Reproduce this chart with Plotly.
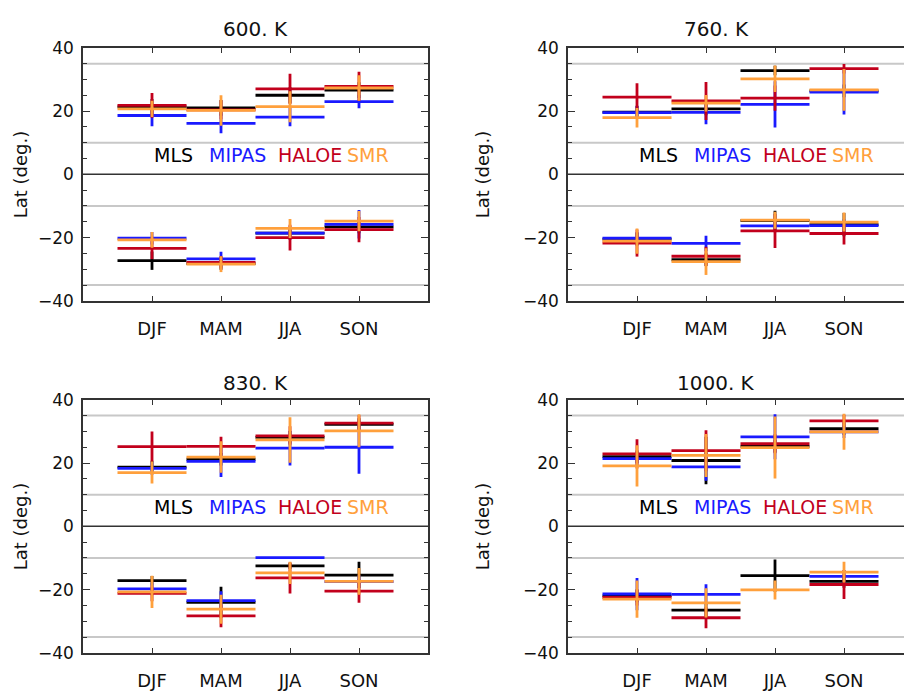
import plotly.graph_objects as go
from plotly.subplots import make_subplots

SEASONS = ["DJF", "MAM", "JJA", "SON"]
SEASON_POS = [1, 2, 3, 4]
INSTRUMENTS = ["MLS", "MIPAS", "HALOE", "SMR"]
COLORS = ["#000000", "#1a1aff", "#c2001c", "#ffa03c"]
PANEL_TITLES = ["600. K", "760. K", "830. K", "1000. K"]
Y_TICKS = [-40, -20, 0, 20, 40]
REF_LATS = [-35, -10, 10, 35]
LABEL_X = [1.0, 1.8, 2.8, 3.8]
LABEL_Y = 6

# rows: MLS, MIPAS, HALOE, SMR ; columns: DJF, MAM, JJA, SON
K600_NH_LAT = [[21.3, 21.0, 25.0, 26.6], [18.6, 16.1, 18.1, 23.0],
               [21.8, 20.4, 27.0, 27.8], [20.7, 20.2, 21.4, 27.3]]
K600_NH_ERR = [[2.5, 2.5, 2.5, 2.5], [3.4, 3.1, 2.9, 2.1],
               [3.9, 3.0, 4.8, 4.6], [2.6, 4.8, 4.9, 4.0]]
K600_SH_LAT = [[-27.3, -28.2, -18.6, -16.6], [-20.2, -26.7, -18.6, -15.8],
               [-23.4, -27.8, -20.0, -17.5], [-20.7, -28.4, -17.1, -14.8]]
K600_SH_ERR = [[2.9, 2.0, 2.0, 2.0], [2.0, 2.2, 2.0, 4.5],
               [3.4, 2.0, 4.1, 4.0], [2.5, 2.5, 3.0, 3.2]]

K760_NH_LAT = [[19.7, 20.7, 32.8, 26.4], [19.5, 19.6, 22.1, 26.0],
               [24.4, 23.2, 24.1, 33.4], [17.9, 22.5, 30.2, 26.7]]
K760_NH_ERR = [[2.0, 2.0, 1.5, 2.0], [2.0, 3.8, 7.3, 7.1],
               [4.4, 6.0, 4.0, 1.5], [3.1, 2.6, 4.2, 6.6]]
K760_SH_LAT = [[-20.5, -27.0, -14.6, -15.9], [-20.2, -21.8, -16.3, -16.2],
               [-21.7, -25.9, -17.9, -18.7], [-21.1, -27.6, -14.5, -15.1]]
K760_SH_ERR = [[2.0, 2.0, 3.1, 3.7], [2.0, 2.4, 2.0, 2.0],
               [4.3, 3.0, 5.4, 3.5], [4.0, 4.2, 2.7, 3.0]]

K830_NH_LAT = [[18.7, 21.2, 28.1, 32.2], [18.3, 20.5, 24.7, 25.0],
               [25.2, 25.3, 28.6, 32.6], [17.0, 21.9, 27.3, 30.2]]
K830_NH_ERR = [[2.0, 2.0, 2.0, 2.0], [2.0, 4.9, 5.5, 8.4],
               [4.8, 3.0, 3.0, 2.5], [3.5, 5.0, 7.2, 5.2]]
K830_SH_LAT = [[-17.2, -24.0, -12.5, -15.4], [-19.8, -23.5, -9.9, -17.5],
               [-21.2, -28.3, -16.3, -20.5], [-20.7, -26.2, -14.7, -17.4]]
K830_SH_ERR = [[1.5, 4.9, 1.0, 4.2], [2.0, 3.0, 0.0, 2.0],
               [2.5, 3.6, 4.9, 3.7], [5.1, 4.6, 3.5, 4.2]]

K1000_NH_LAT = [[22.0, 20.8, 25.3, 30.9], [21.4, 18.8, 28.3, 29.9],
                [22.9, 23.9, 26.1, 33.3], [19.1, 22.4, 24.9, 29.9]]
K1000_NH_ERR = [[2.0, 7.5, 2.0, 2.0], [2.0, 4.4, 7.1, 2.0],
                [4.6, 6.5, 3.0, 2.0], [6.5, 6.8, 9.8, 5.7]]
K1000_SH_LAT = [[-22.0, -26.5, -15.6, -17.4], [-21.4, -21.5, None, -15.8],
                [-22.5, -28.9, None, -18.4], [-23.0, -24.2, -20.1, -14.5]]
K1000_SH_ERR = [[2.0, 2.0, 5.1, 2.0], [5.1, 3.2, None, 2.0],
                [2.5, 3.3, None, 4.6], [5.9, 4.6, 3.0, 3.3]]

PANELS = [
    (K600_NH_LAT, K600_NH_ERR, K600_SH_LAT, K600_SH_ERR),
    (K760_NH_LAT, K760_NH_ERR, K760_SH_LAT, K760_SH_ERR),
    (K830_NH_LAT, K830_NH_ERR, K830_SH_LAT, K830_SH_ERR),
    (K1000_NH_LAT, K1000_NH_ERR, K1000_SH_LAT, K1000_SH_ERR),
]

W, H = 904, 691
FONT = "DejaVu Sans"
PX_PER_X = 69.0
LEFT_X0, RIGHT_X0 = 83, 568
TOP_Y = (39, 300)
BOT_Y = (402, 663)


def segments(lat_rows, err_rows):
    xs, ys = [], []
    for lats, errs in zip(lat_rows, err_rows):
        for p, lat, err in zip(SEASON_POS, lats, errs):
            if lat is None:
                continue
            xs += [p - 0.5, p + 0.5, None, p, p, None]
            ys += [lat, lat, None, lat - err, lat + err, None]
    return xs, ys


fig = make_subplots(rows=2, cols=2)

for k, (nh_lat, nh_err, sh_lat, sh_err) in enumerate(PANELS):
    row, col = k // 2 + 1, k % 2 + 1
    for i, name in enumerate(INSTRUMENTS):
        xs, ys = segments([nh_lat[i], sh_lat[i]], [nh_err[i], sh_err[i]])
        fig.add_trace(go.Scatter(x=xs, y=ys, mode="lines", name=name,
                                 line=dict(color=COLORS[i], width=2.8),
                                 showlegend=False, hoverinfo="skip"),
                      row=row, col=col)
        fig.add_annotation(x=LABEL_X[i], y=LABEL_Y, text=name, showarrow=False,
                           xanchor="left", yanchor="middle",
                           font=dict(family=FONT, size=19, color=COLORS[i]),
                           row=row, col=col)

axis_names = ["", "2", "3", "4"]
for k in range(4):
    col = k % 2
    yp = TOP_Y if k < 2 else BOT_Y
    x0 = LEFT_X0 if col == 0 else RIGHT_X0
    x1 = min(x0 + 5 * PX_PER_X, W)
    xr = (x1 - x0) / PX_PER_X
    ax = axis_names[k]
    fig.layout["xaxis" + ax].update(
        domain=[x0 / W, x1 / W], range=[0, xr],
        tickvals=SEASON_POS, ticktext=SEASONS,
        ticks="inside", ticklen=5, tickcolor="#333", tickwidth=1.2,
        showline=True, linecolor="#333", linewidth=1.5, mirror="allticks",
        showgrid=False, zeroline=False,
        tickfont=dict(family=FONT, size=18, color="#111"),
        ticklabelstandoff=11,
    )
    fig.layout["yaxis" + ax].update(
        domain=[1 - yp[1] / H, 1 - yp[0] / H], range=[-40, 40],
        tickvals=Y_TICKS, ticks="inside", ticklen=7, tickcolor="#333",
        tickwidth=1.2,
        minor=dict(dtick=5, ticks="inside", ticklen=4, tickcolor="#333"),
        showline=True, linecolor="#333", linewidth=1.5,
        mirror="allticks" if col == 0 else False,
        showgrid=False, zeroline=False,
        tickfont=dict(family=FONT, size=17, color="#111"),
        ticklabelstandoff=4,
    )
    xref = "x" + ax + " domain"
    yref = "y" + ax
    for lat in REF_LATS:
        fig.add_shape(type="line", xref=xref, yref=yref, x0=0, x1=1,
                      y0=lat, y1=lat, layer="below",
                      line=dict(color="#c8c8c8", width=2))
    fig.add_shape(type="line", xref=xref, yref=yref, x0=0, x1=1, y0=0, y1=0,
                  layer="below", line=dict(color="#333", width=1.5))

    # panel title
    cx = 255 if col == 0 else 716
    ty = 20 if k < 2 else 385
    fig.add_annotation(x=cx / W, y=1 - ty / H, xref="paper", yref="paper",
                       text=PANEL_TITLES[k], showarrow=False,
                       xanchor="center", yanchor="middle",
                       font=dict(family=FONT, size=20, color="#111"))
    # y title
    lx = 20 if col == 0 else 482
    ly = (yp[0] + yp[1]) / 2
    fig.add_annotation(x=lx / W, y=1 - ly / H, xref="paper", yref="paper",
                       text="Lat (deg.)", showarrow=False, textangle=-90,
                       xanchor="center", yanchor="middle",
                       font=dict(family=FONT, size=18, color="#111"))

fig.update_layout(width=W, height=H, margin=dict(l=0, r=0, t=0, b=0),
                  plot_bgcolor="white", paper_bgcolor="white",
                  font=dict(family=FONT))

fig.write_html("out.html")
